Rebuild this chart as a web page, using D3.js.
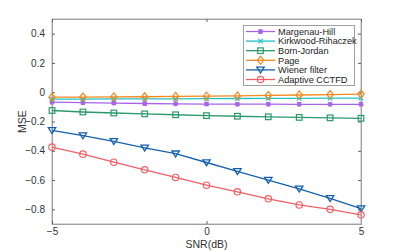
<!DOCTYPE html>
<html>
<head>
<meta charset="utf-8">
<script src="https://cdn.jsdelivr.net/npm/d3@7"></script>
<style>
  body { margin: 0; background: #fff; }
  text { font-family: "Liberation Sans", Arial, sans-serif; }
</style>
</head>
<body>
<div id="chart"></div>
<script>
// snr values on the x axis
var snr = [-5, -4, -3, -2, -1, 0, 1, 2, 3, 4, 5];

// mse per method
var margenauHill = [-0.068, -0.071, -0.074, -0.077, -0.079, -0.081, -0.082, -0.082, -0.083, -0.083, -0.083];
var kirkwood = [-0.047, -0.047, -0.046, -0.046, -0.045, -0.044, -0.043, -0.042, -0.042, -0.041, -0.040];
var bornJordan = [-0.125, -0.135, -0.142, -0.148, -0.154, -0.160, -0.164, -0.168, -0.172, -0.175, -0.178];
var page = [-0.034, -0.033, -0.032, -0.031, -0.029, -0.027, -0.025, -0.022, -0.019, -0.016, -0.013];
var wiener = [-0.26, -0.296, -0.336, -0.38, -0.42, -0.48, -0.54, -0.60, -0.66, -0.725, -0.795];
var adaptive = [-0.375, -0.423, -0.478, -0.53, -0.582, -0.635, -0.68, -0.728, -0.77, -0.80, -0.837];

var names = ['Margenau-Hill', 'Kirkwood-Rihaczek', 'Born-Jordan', 'Page', 'Wiener filter', 'Adaptive CCTFD'];
var xTicks = [-5, 0, 5];
var yTicks = [-0.8, -0.6, -0.4, -0.2, 0, 0.2, 0.4];

var series = [
  { name: names[0], values: margenauHill, color: '#a665e6', marker: 'star' },
  { name: names[1], values: kirkwood, color: '#23c2c9', marker: 'x' },
  { name: names[2], values: bornJordan, color: '#2a9a6c', marker: 'square' },
  { name: names[3], values: page, color: '#f4891f', marker: 'diamond' },
  { name: names[4], values: wiener, color: '#1561ad', marker: 'triangle' },
  { name: names[5], values: adaptive, color: '#f25f66', marker: 'circle' }
];

var width = 399, height = 252;
var margin = { left: 52, right: 38, top: 19, bottom: 28 };

var svg = d3.select('#chart').append('svg').attr('width', width).attr('height', height);

var x = d3.scaleLinear().domain([-5, 5]).range([margin.left, width - margin.right]);
var y = d3.scaleLinear().domain([-0.9, 0.5]).range([height - margin.bottom, margin.top]);

// box
svg.append('rect')
  .attr('x', x(-5)).attr('y', y(0.5))
  .attr('width', x(5) - x(-5)).attr('height', y(-0.9) - y(0.5))
  .attr('fill', 'none').attr('stroke', '#b0b0b0').attr('stroke-width', 1);

// left / bottom axes
svg.append('g').attr('transform', 'translate(' + x(-5) + ',0)')
  .call(d3.axisLeft(y).tickValues(yTicks).tickSize(-3).tickPadding(7)
    .tickFormat(function (d) { return d === 0 ? '0' : d3.format('.1f')(d); }));
svg.append('g').attr('transform', 'translate(0,' + y(-0.9) + ')')
  .call(d3.axisBottom(x).tickValues(xTicks).tickSize(-3).tickPadding(4));
// right / top ticks
svg.append('g').attr('transform', 'translate(' + x(5) + ',0)')
  .call(d3.axisRight(y).tickValues(yTicks).tickSize(-3).tickFormat(''));
svg.append('g').attr('transform', 'translate(0,' + y(0.5) + ')')
  .call(d3.axisTop(x).tickValues(xTicks).tickSize(-3).tickFormat(''));

svg.selectAll('.domain').attr('stroke', '#a0a0a0');
svg.selectAll('.tick line').attr('stroke', '#606060');
svg.selectAll('.tick text').attr('font-size', 10).attr('fill', '#333')
  .style('font-family', '"Liberation Sans", Arial, sans-serif');

// axis titles
svg.append('text').attr('x', x(0)).attr('y', 248)
  .attr('text-anchor', 'middle').attr('font-size', 10.5).attr('fill', '#333').text('SNR(dB)');
svg.append('text').attr('transform', 'translate(26,' + y(-0.2) + ') rotate(-90)')
  .attr('text-anchor', 'middle').attr('font-size', 10.5).attr('fill', '#333').text('MSE');

function drawMarker(g, type, cx, cy, color) {
  var s = 3.2;
  if (type === 'circle') {
    g.append('circle').attr('cx', cx).attr('cy', cy).attr('r', s)
      .attr('fill', 'none').attr('stroke', color).attr('stroke-width', 1.2);
  } else if (type === 'square') {
    g.append('rect').attr('x', cx - s + 0.4).attr('y', cy - s + 0.4).attr('width', 2 * s - 0.8).attr('height', 2 * s - 0.8)
      .attr('fill', 'none').attr('stroke', color).attr('stroke-width', 1.2);
  } else if (type === 'diamond') {
    g.append('path').attr('d', 'M' + cx + ',' + (cy - s - 0.8) + 'L' + (cx + s) + ',' + cy + 'L' + cx + ',' + (cy + s + 0.8) + 'L' + (cx - s) + ',' + cy + 'Z')
      .attr('fill', 'none').attr('stroke', color).attr('stroke-width', 1.2);
  } else if (type === 'triangle') {
    g.append('path').attr('d', 'M' + (cx - s - 0.5) + ',' + (cy - s + 0.5) + 'L' + (cx + s + 0.5) + ',' + (cy - s + 0.5) + 'L' + cx + ',' + (cy + s) + 'Z')
      .attr('fill', 'none').attr('stroke', color).attr('stroke-width', 1.3);
  } else if (type === 'x') {
    g.append('path').attr('d', 'M' + (cx - 2.2) + ',' + (cy - 2.2) + 'L' + (cx + 2.2) + ',' + (cy + 2.2) + 'M' + (cx + 2.2) + ',' + (cy - 2.2) + 'L' + (cx - 2.2) + ',' + (cy + 2.2))
      .attr('stroke', color).attr('stroke-width', 1.2);
  } else if (type === 'star') {
    g.append('path').attr('d', 'M' + (cx - 2.5) + ',' + cy + 'L' + (cx + 2.5) + ',' + cy +
      'M' + cx + ',' + (cy - 2.5) + 'L' + cx + ',' + (cy + 2.5) +
      'M' + (cx - 2) + ',' + (cy - 2) + 'L' + (cx + 2) + ',' + (cy + 2) +
      'M' + (cx + 2) + ',' + (cy - 2) + 'L' + (cx - 2) + ',' + (cy + 2))
      .attr('stroke', color).attr('stroke-width', 1.4);
  }
}

var line = d3.line().x(function (d, i) { return x(snr[i]); }).y(function (d) { return y(d); });

series.forEach(function (s) {
  var g = svg.append('g');
  g.append('path').datum(s.values).attr('d', line)
    .attr('fill', 'none').attr('stroke', s.color).attr('stroke-width', 1.3);
  s.values.forEach(function (v, i) {
    drawMarker(g, s.marker, x(snr[i]), y(v), s.color);
  });
});

// legend
var lg = svg.append('g');
lg.append('rect').attr('x', 243.5).attr('y', 25.5).attr('width', 111).attr('height', 60)
  .attr('fill', '#fff').attr('stroke', '#a0a0a0').attr('stroke-width', 1);
series.forEach(function (s, i) {
  var yy = 31.5 + i * 9.6;
  lg.append('line').attr('x1', 246).attr('x2', 275).attr('y1', yy).attr('y2', yy)
    .attr('stroke', s.color).attr('stroke-width', 1.3);
  drawMarker(lg, s.marker, 260.5, yy, s.color);
  lg.append('text').attr('x', 278).attr('y', yy + 3.3).attr('font-size', 9.2).attr('fill', '#222').text(s.name);
});
</script>
</body>
</html>
